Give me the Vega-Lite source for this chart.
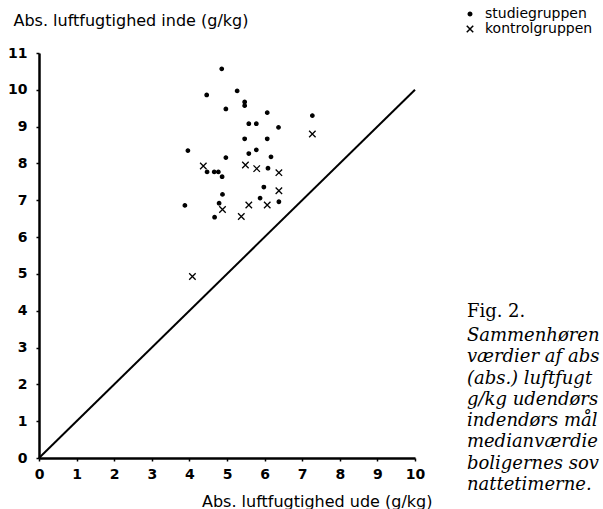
{
  "$schema": "https://vega.github.io/schema/vega-lite/v6.json",
  "width": 376,
  "height": 405,
  "autosize": {"type": "none"},
  "padding": {"left": 39, "top": 53, "right": 188, "bottom": 51},
  "background": "white",
  "config": {
    "view": {"stroke": null},
    "font": "DejaVu Sans",
    "axis": {
      "grid": false,
      "domainColor": "black",
      "domainWidth": 2.5,
      "tickColor": "black",
      "tickWidth": 1.5,
      "tickSize": 3,
      "labelFont": "DejaVu Sans",
      "labelFontSize": 14,
      "labelFontWeight": "bold",
      "labelColor": "black",
      "labelOverlap": false,
      "labelFlush": false,
      "titleFont": "DejaVu Sans",
      "titleFontSize": 16,
      "titleFontWeight": "normal",
      "titleColor": "black"
    },
    "legend": {
      "labelFont": "DejaVu Sans",
      "labelFontSize": 14,
      "labelColor": "black"
    }
  },
  "datasets": {
    "points": [
      {"ude": 4.86, "inde": 10.57, "group": "studiegruppen"},
      {"ude": 4.46, "inde": 9.86, "group": "studiegruppen"},
      {"ude": 5.27, "inde": 9.97, "group": "studiegruppen"},
      {"ude": 5.47, "inde": 9.67, "group": "studiegruppen"},
      {"ude": 5.47, "inde": 9.57, "group": "studiegruppen"},
      {"ude": 4.97, "inde": 9.48, "group": "studiegruppen"},
      {"ude": 6.07, "inde": 9.38, "group": "studiegruppen"},
      {"ude": 7.27, "inde": 9.30, "group": "studiegruppen"},
      {"ude": 5.58, "inde": 9.08, "group": "studiegruppen"},
      {"ude": 5.78, "inde": 9.08, "group": "studiegruppen"},
      {"ude": 6.37, "inde": 8.98, "group": "studiegruppen"},
      {"ude": 5.47, "inde": 8.67, "group": "studiegruppen"},
      {"ude": 6.07, "inde": 8.67, "group": "studiegruppen"},
      {"ude": 3.96, "inde": 8.35, "group": "studiegruppen"},
      {"ude": 5.78, "inde": 8.37, "group": "studiegruppen"},
      {"ude": 5.58, "inde": 8.27, "group": "studiegruppen"},
      {"ude": 6.17, "inde": 8.18, "group": "studiegruppen"},
      {"ude": 4.97, "inde": 8.16, "group": "studiegruppen"},
      {"ude": 6.09, "inde": 7.87, "group": "studiegruppen"},
      {"ude": 4.47, "inde": 7.77, "group": "studiegruppen"},
      {"ude": 4.66, "inde": 7.77, "group": "studiegruppen"},
      {"ude": 4.77, "inde": 7.77, "group": "studiegruppen"},
      {"ude": 4.87, "inde": 7.64, "group": "studiegruppen"},
      {"ude": 5.98, "inde": 7.36, "group": "studiegruppen"},
      {"ude": 4.88, "inde": 7.16, "group": "studiegruppen"},
      {"ude": 5.88, "inde": 7.06, "group": "studiegruppen"},
      {"ude": 6.38, "inde": 6.96, "group": "studiegruppen"},
      {"ude": 3.88, "inde": 6.86, "group": "studiegruppen"},
      {"ude": 4.79, "inde": 6.92, "group": "studiegruppen"},
      {"ude": 4.67, "inde": 6.54, "group": "studiegruppen"},
      {"ude": 7.27, "inde": 8.80, "group": "kontrolgruppen"},
      {"ude": 4.37, "inde": 7.93, "group": "kontrolgruppen"},
      {"ude": 5.49, "inde": 7.96, "group": "kontrolgruppen"},
      {"ude": 5.79, "inde": 7.86, "group": "kontrolgruppen"},
      {"ude": 6.38, "inde": 7.75, "group": "kontrolgruppen"},
      {"ude": 6.38, "inde": 7.26, "group": "kontrolgruppen"},
      {"ude": 5.58, "inde": 6.87, "group": "kontrolgruppen"},
      {"ude": 6.07, "inde": 6.87, "group": "kontrolgruppen"},
      {"ude": 4.88, "inde": 6.75, "group": "kontrolgruppen"},
      {"ude": 5.38, "inde": 6.56, "group": "kontrolgruppen"},
      {"ude": 4.08, "inde": 4.93, "group": "kontrolgruppen"}
    ],
    "diag": [
      {"ude": 0, "inde": 0},
      {"ude": 10, "inde": 10}
    ],
    "caption": [
      {"fig": "Fig. 2.", "body": ["Sammenhøren", "værdier af abs", "(abs.) luftfugt", "g/kg udendørs", "indendørs mål", "medianværdie", "boligernes sov", "nattetimerne."]}
    ]
  },
  "layer": [
    {
      "data": {"name": "diag"},
      "mark": {"type": "line", "color": "black", "strokeWidth": 2},
      "encoding": {
        "x": {
          "field": "ude", "type": "quantitative",
          "scale": {"domain": [0, 10], "nice": false, "zero": true},
          "axis": {
            "values": [0, 1, 2, 3, 4, 5, 6, 7, 8, 9, 10],
            "labelPadding": 6,
            "title": "Abs. luftfugtighed ude (g/kg)",
            "titleX": 393, "titleY": 43, "titleAlign": "right", "titleBaseline": "middle", "titleAnchor": null
          }
        },
        "y": {
          "field": "inde", "type": "quantitative",
          "scale": {"domain": [0, 11], "nice": false, "zero": true},
          "axis": {
            "values": [0, 1, 2, 3, 4, 5, 6, 7, 8, 9, 10, 11],
            "labelPadding": 9,
            "title": "Abs. luftfugtighed inde (g/kg)",
            "titleAngle": 0, "titleX": -26, "titleY": -33, "titleAlign": "left", "titleBaseline": "middle", "titleAnchor": null
          }
        }
      }
    },
    {
      "data": {"name": "points"},
      "mark": {"type": "point", "filled": true, "fill": "black", "stroke": "black", "strokeWidth": 1.3, "opacity": 1},
      "encoding": {
        "x": {
          "field": "ude", "type": "quantitative",
          "axis": {
            "values": [0, 1, 2, 3, 4, 5, 6, 7, 8, 9, 10],
            "labelPadding": 6,
            "title": "Abs. luftfugtighed ude (g/kg)",
            "titleX": 393, "titleY": 43, "titleAlign": "right", "titleBaseline": "middle", "titleAnchor": null
          }
        },
        "y": {
          "field": "inde", "type": "quantitative",
          "axis": {
            "values": [0, 1, 2, 3, 4, 5, 6, 7, 8, 9, 10, 11],
            "labelPadding": 9,
            "title": "Abs. luftfugtighed inde (g/kg)",
            "titleAngle": 0, "titleX": -26, "titleY": -33, "titleAlign": "left", "titleBaseline": "middle", "titleAnchor": null
          }
        },
        "shape": {
          "field": "group", "type": "nominal",
          "scale": {"domain": ["studiegruppen", "kontrolgruppen"], "range": ["circle", "M-1,-1L1,1M-1,1L1,-1"]},
          "legend": {"title": null, "orient": "none", "legendX": 424, "legendY": -46, "rowPadding": 1, "labelOffset": 8}
        },
        "size": {
          "field": "group", "type": "nominal",
          "scale": {"domain": ["studiegruppen", "kontrolgruppen"], "range": [12, 42]},
          "legend": {"title": null, "orient": "none", "legendX": 424, "legendY": -46, "rowPadding": 1, "labelOffset": 8}
        }
      }
    },
    {
      "data": {"name": "caption"},
      "mark": {"type": "text", "font": "DejaVu Serif", "fontSize": 18, "align": "left", "baseline": "alphabetic", "fill": "black", "clip": false},
      "encoding": {
        "x": {
          "datum": 11.38,
          "axis": {
            "values": [0, 1, 2, 3, 4, 5, 6, 7, 8, 9, 10],
            "labelPadding": 6,
            "title": "Abs. luftfugtighed ude (g/kg)",
            "titleX": 393, "titleY": 43, "titleAlign": "right", "titleBaseline": "middle", "titleAnchor": null
          }
        },
        "y": {
          "datum": 3.83,
          "axis": {
            "values": [0, 1, 2, 3, 4, 5, 6, 7, 8, 9, 10, 11],
            "labelPadding": 9,
            "title": "Abs. luftfugtighed inde (g/kg)",
            "titleAngle": 0, "titleX": -26, "titleY": -33, "titleAlign": "left", "titleBaseline": "middle", "titleAnchor": null
          }
        },
        "text": {"field": "fig"}
      }
    },
    {
      "data": {"name": "caption"},
      "mark": {"type": "text", "font": "DejaVu Serif", "fontStyle": "italic", "fontSize": 18, "lineHeight": 21.3, "align": "left", "baseline": "alphabetic", "fill": "black", "clip": false},
      "encoding": {
        "x": {
          "datum": 11.38,
          "axis": {
            "values": [0, 1, 2, 3, 4, 5, 6, 7, 8, 9, 10],
            "labelPadding": 6,
            "title": "Abs. luftfugtighed ude (g/kg)",
            "titleX": 393, "titleY": 43, "titleAlign": "right", "titleBaseline": "middle", "titleAnchor": null
          }
        },
        "y": {
          "datum": 3.18,
          "axis": {
            "values": [0, 1, 2, 3, 4, 5, 6, 7, 8, 9, 10, 11],
            "labelPadding": 9,
            "title": "Abs. luftfugtighed inde (g/kg)",
            "titleAngle": 0, "titleX": -26, "titleY": -33, "titleAlign": "left", "titleBaseline": "middle", "titleAnchor": null
          }
        },
        "text": {"field": "body"}
      }
    }
  ]
}
